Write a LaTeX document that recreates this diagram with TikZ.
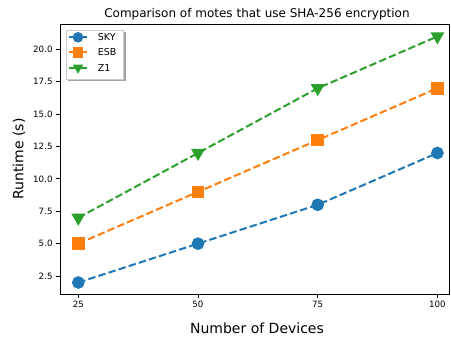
\documentclass[tikz,border=0pt]{standalone}
\usepackage{fontspec}
\setmainfont{DejaVu Sans}
\usetikzlibrary{plotmarks}
\definecolor{tabblue}{HTML}{1F77B4}
\definecolor{taborange}{HTML}{FF7F0E}
\definecolor{tabgreen}{HTML}{2CA02C}
\begin{document}
\begin{tikzpicture}[x=1pt, y=1pt]
    % Define styles
    \tikzset{
        ticklabel/.style={font=\fontsize{8.7}{10}\selectfont, inner sep=0pt},
        axislabel/.style={font=\fontsize{14}{16}\selectfont},
        series/.style={line width=2pt, dash pattern=on 7.4pt off 3.2pt},
        skyline/.style={series, tabblue, mark=*, mark size=5.3pt, mark options={solid}},
        esbline/.style={series, taborange, mark=square*, mark size=5.3pt, mark options={solid}},
        zoneline/.style={series, tabgreen, mark=triangle*, mark size=6pt, mark options={solid, rotate=180}},
        legendtext/.style={font=\fontsize{9.5}{11}\selectfont, anchor=west, inner sep=0pt}
    }
    \useasboundingbox (0,0) rectangle (451,338);

    % Data area
    \begin{scope}[shift={(-41.4pt,29.6pt)}, x=4.788pt, y=12.95pt]
        \draw[line width=0.8pt] (21.17,1.11) rectangle (102.6,21.96);
        \foreach \v in {25,50,75,100}
            \draw[line width=0.8pt] (\v,1.11) -- ++(0,-3.5pt) node[ticklabel, below=3.5pt] {\v};
        \foreach \v in {2.5,5.0,7.5,10.0,12.5,15.0,17.5,20.0}
            \draw[line width=0.8pt] (21.17,\v) -- ++(-3.5pt,0) node[ticklabel, left=3.5pt] {\v};
        \draw[skyline] plot coordinates {(25,2) (50,5) (75,8) (100,12)};
        \draw[esbline] plot coordinates {(25,5) (50,9) (75,13) (100,17)};
        \draw[zoneline] plot coordinates {(25,7) (50,12) (75,17) (100,21)};
    \end{scope}

    % Labels
    \node[font=\fontsize{12}{14}\selectfont] (title) at (257,324) {Comparison of motes that use SHA-256 encryption};
    \node[axislabel] (xlabel) at (257,10) {Number of Devices};
    \node[axislabel, rotate=90] (ylabel) at (19,179) {Runtime (s)};

    % Legend
    \fill[black!60, opacity=0.6] (68,256.5) rectangle (125.5,306);
    \draw[black!20, fill=white] (66,259) rectangle (123,308);
    \draw[tabblue, line width=2pt] (69,300.7) -- (87,300.7);
    \draw[taborange, line width=2pt] (69,285.7) -- (87,285.7);
    \draw[tabgreen, line width=2pt] (69,270.3) -- (87,270.3);
    \fill[tabblue] (78,300.7) circle (5.3);
    \fill[taborange] (72.7,280.4) rectangle (83.3,291);
    \fill[tabgreen] (78,270.3) ++(90:-6) -- ++(120:10.4) -- ++(0:10.4) -- cycle;
    \node[legendtext] (sky) at (97.7,300.7) {SKY};
    \node[legendtext] (esb) at (97.7,285.7) {ESB};
    \node[legendtext] (zone) at (97.7,270.3) {Z1};
\end{tikzpicture}
\end{document}
